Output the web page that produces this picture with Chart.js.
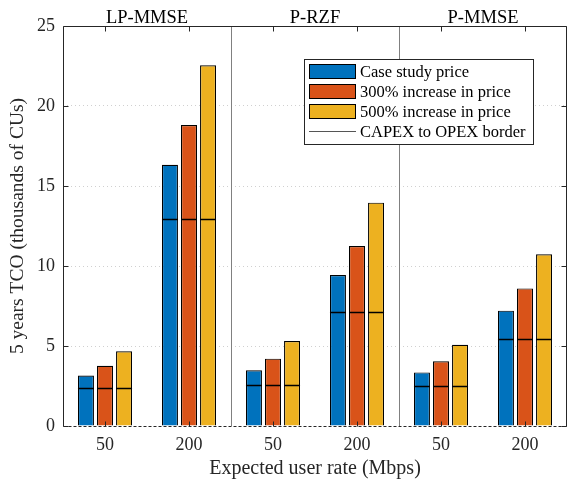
<!DOCTYPE html>
<html><head><meta charset="utf-8">
<script src="https://cdn.jsdelivr.net/npm/chart.js@4.4.0/dist/chart.umd.min.js"></script>
<style>html,body{margin:0;padding:0;background:#fff}#wrap{width:569px;height:481px}</style>
</head><body><div id="wrap"><canvas id="c" width="569" height="481"></canvas></div>
<script>
const categories = ['50','200','50','200','50','200'];
const sections = ['LP-MMSE','P-RZF','P-MMSE'];
const seriesNames = ['Case study price','300% increase in price','500% increase in price'];
const borderName = 'CAPEX to OPEX border';
const casePrice = [3.15,16.33,3.48,9.44,3.35,7.21];
const price300 = [3.77,18.81,4.21,11.25,4.04,8.60];
const price500 = [4.67,22.54,5.31,13.96,5.08,10.73];
const capexBorder = [2.35,12.94,2.54,7.15,2.50,5.44];
const yTicks = [0,5,10,15,20,25];
const colors = ['#0072BD','#D95319','#EDB120'];
const FONT = '"Liberation Serif", "Times New Roman", serif';
const TXT = '#262626';

const overlay = {
  id:'overlay',
  beforeDatasetsDraw(chart){
    const {ctx, chartArea:a, scales:{x}} = chart;
    ctx.save();
    ctx.strokeStyle = '#808080'; ctx.lineWidth = 1;
    for (let s=1; s<sections.length; s++){
      const px = Math.round((x.getPixelForValue(2*s-1)+x.getPixelForValue(2*s))/2)+0.5;
      ctx.beginPath(); ctx.moveTo(px,a.top); ctx.lineTo(px,a.bottom); ctx.stroke();
    }
    ctx.restore();
  },
  afterDatasetsDraw(chart){
    const {ctx, chartArea:a, scales:{x,y}} = chart;
    ctx.save();
    ctx.strokeStyle = '#000'; ctx.lineWidth = 1.5;
    chart.data.datasets.forEach((ds,di)=>{
      const meta = chart.getDatasetMeta(di);
      meta.data.forEach((el,i)=>{
        const py = Math.round(y.getPixelForValue(capexBorder[i]))+0.5;
        ctx.beginPath(); ctx.moveTo(el.x-el.width/2, py); ctx.lineTo(el.x+el.width/2, py); ctx.stroke();
      });
    });
    ctx.strokeStyle = TXT; ctx.lineWidth = 1;
    const L = Math.round(a.left)+0.5, R = Math.round(a.right)-0.5, T = Math.round(a.top)+0.5, B = Math.round(a.bottom)+0.5;
    ctx.beginPath(); ctx.moveTo(L,B); ctx.lineTo(L,T); ctx.lineTo(R,T); ctx.lineTo(R,B); ctx.stroke();
    ctx.setLineDash([3,2]);
    ctx.beginPath(); ctx.moveTo(L,B); ctx.lineTo(R,B); ctx.stroke();
    ctx.setLineDash([]);
    yTicks.forEach(v=>{
      const py = Math.round(y.getPixelForValue(v))+0.5;
      ctx.beginPath(); ctx.moveTo(L,py); ctx.lineTo(L+5,py); ctx.moveTo(R,py); ctx.lineTo(R-5,py); ctx.stroke();
    });
    categories.forEach((c,i)=>{
      const px = Math.round(x.getPixelForValue(i))+0.5;
      ctx.beginPath(); ctx.moveTo(px,B); ctx.lineTo(px,B-5); ctx.moveTo(px,T); ctx.lineTo(px,T+5); ctx.stroke();
    });
    ctx.fillStyle = '#000'; ctx.font = '18.5px '+FONT; ctx.textAlign='center'; ctx.textBaseline='alphabetic';
    sections.forEach((s,i)=>{
      const px = (x.getPixelForValue(2*i)+x.getPixelForValue(2*i+1))/2;
      ctx.fillText(s, px, a.top-3);
    });
    const lx=304, ly=59, lw=229, lh=85;
    ctx.fillStyle='#fff'; ctx.fillRect(lx,ly,lw,lh);
    ctx.strokeStyle='#262626'; ctx.lineWidth=1;
    ctx.strokeRect(lx+0.5,ly+0.5,lw,lh);
    ctx.font='16.5px '+FONT; ctx.textAlign='left'; ctx.textBaseline='middle';
    seriesNames.forEach((n,i)=>{
      const cy = 71.5 + i*20;
      ctx.fillStyle=colors[i]; ctx.fillRect(309.5,cy-7,46,14);
      ctx.strokeStyle='#000'; ctx.strokeRect(309.5,cy-7,46,14);
      ctx.fillStyle='#000'; ctx.fillText(n, 360, cy+1);
    });
    const cy4 = 131.5;
    ctx.strokeStyle='#555'; ctx.lineWidth=1.2;
    ctx.beginPath(); ctx.moveTo(309,cy4); ctx.lineTo(356,cy4); ctx.stroke();
    ctx.fillStyle='#000'; ctx.fillText(borderName, 360, cy4+1);
    ctx.restore();
  }
};

new Chart(document.getElementById('c'), {
  type:'bar',
  data:{
    labels: categories,
    datasets:[casePrice,price300,price500].map((d,i)=>({
      label: seriesNames[i], data:d, backgroundColor:colors[i], borderColor:'#000', borderWidth:1.2,
      categoryPercentage:0.68, barPercentage:0.84
    }))
  },
  options:{
    responsive:false, animation:false,
    layout:{padding:{left:0,right:2,top:26,bottom:0}},
    plugins:{legend:{display:false}, tooltip:{enabled:false}},
    scales:{
      x:{
        grid:{display:false, drawTicks:false}, border:{display:false},
        ticks:{color:TXT, font:{family:FONT,size:18}, padding:8},
        title:{display:true, text:'Expected user rate (Mbps)', color:TXT, font:{family:FONT,size:20}, padding:{top:1,bottom:0}},
        afterFit(s){ s.height = 55; }
      },
      y:{
        min:0, max:25,
        afterBuildTicks(s){ s.ticks = yTicks.map(v=>({value:v})); },
        grid:{drawTicks:false, color:(c)=> (c.tick && (c.tick.value===0||c.tick.value===25)) ? 'rgba(0,0,0,0)' : '#d0d0d0', lineWidth:1},
        border:{display:false, dash:[1,3]},
        ticks:{color:TXT, font:{family:FONT,size:18}, padding:8},
        title:{display:true, text:'5 years TCO (thousands of CUs)', color:TXT, font:{family:FONT,size:19.5}, padding:{top:6,bottom:2}},
        afterFit(s){ s.width = 63; }
      }
    }
  },
  plugins:[overlay]
});
</script></body></html>
